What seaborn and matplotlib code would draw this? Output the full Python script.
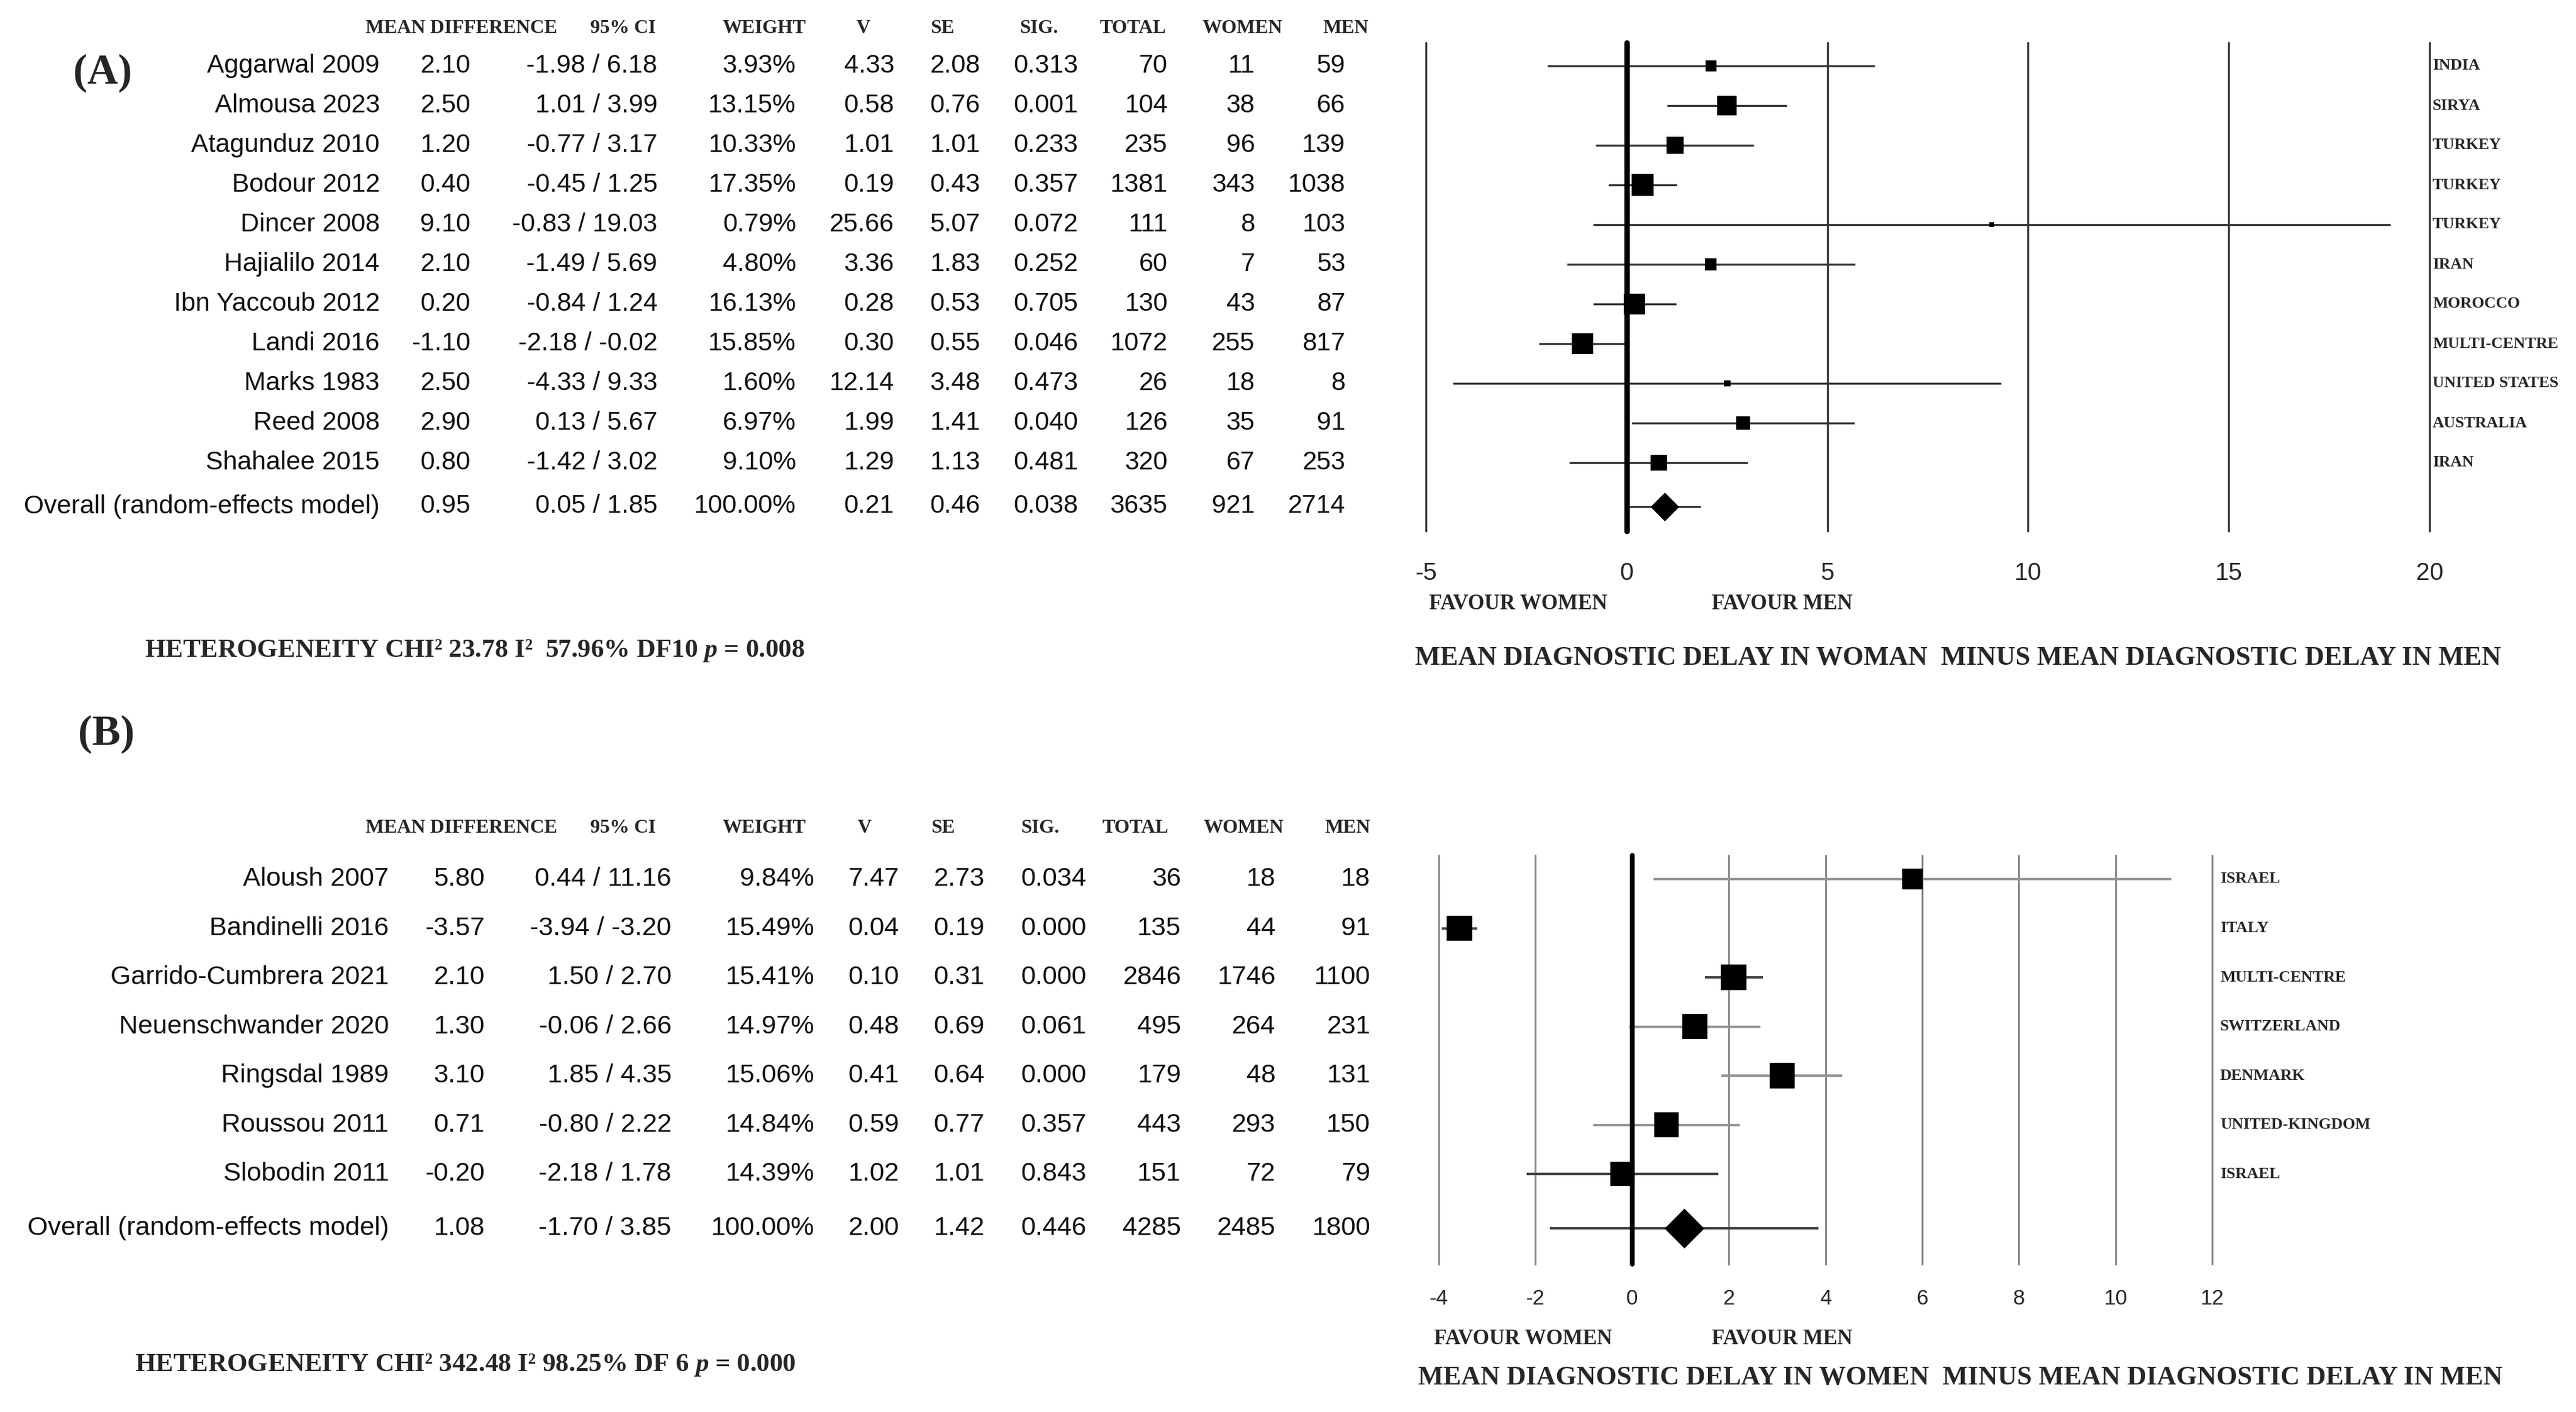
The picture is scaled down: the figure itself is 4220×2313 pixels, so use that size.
import numpy as np
import pandas as pd
import matplotlib
matplotlib.use("Agg")
import matplotlib.pyplot as plt
import seaborn as sns
from matplotlib.transforms import blended_transform_factory

# ---------------- data: panel A ----------------
a_study = ["Aggarwal 2009", "Almousa 2023", "Atagunduz 2010", "Bodour 2012", "Dincer 2008",
           "Hajialilo 2014", "Ibn Yaccoub 2012", "Landi 2016", "Marks 1983", "Reed 2008",
           "Shahalee 2015"]
a_md = [2.10, 2.50, 1.20, 0.40, 9.10, 2.10, 0.20, -1.10, 2.50, 2.90, 0.80]
a_lo = [-1.98, 1.01, -0.77, -0.45, -0.83, -1.49, -0.84, -2.18, -4.33, 0.13, -1.42]
a_hi = [6.18, 3.99, 3.17, 1.25, 19.03, 5.69, 1.24, -0.02, 9.33, 5.67, 3.02]
a_weight = [3.93, 13.15, 10.33, 17.35, 0.79, 4.80, 16.13, 15.85, 1.60, 6.97, 9.10]
a_v = [4.33, 0.58, 1.01, 0.19, 25.66, 3.36, 0.28, 0.30, 12.14, 1.99, 1.29]
a_se = [2.08, 0.76, 1.01, 0.43, 5.07, 1.83, 0.53, 0.55, 3.48, 1.41, 1.13]
a_sig = [0.313, 0.001, 0.233, 0.357, 0.072, 0.252, 0.705, 0.046, 0.473, 0.040, 0.481]
a_total = [70, 104, 235, 1381, 111, 60, 130, 1072, 26, 126, 320]
a_women = [11, 38, 96, 343, 8, 7, 43, 255, 18, 35, 67]
a_men = [59, 66, 139, 1038, 103, 53, 87, 817, 8, 91, 253]
a_country = ["INDIA", "SIRYA", "TURKEY", "TURKEY", "TURKEY", "IRAN", "MOROCCO",
             "MULTI-CENTRE", "UNITED STATES", "AUSTRALIA", "IRAN"]
a_overall = dict(md=0.95, lo=0.05, hi=1.85, weight=100.00, v=0.21, se=0.46, sig=0.038,
                 total=3635, women=921, men=2714)
a_ticks = [-5, 0, 5, 10, 15, 20]
a_het = "HETEROGENEITY CHI\u00b2 23.78 I\u00b2  57.96% DF10 $p$ = 0.008"
a_xtitle = "MEAN DIAGNOSTIC DELAY IN WOMAN  MINUS MEAN DIAGNOSTIC DELAY IN MEN"

# ---------------- data: panel B ----------------
b_study = ["Aloush 2007", "Bandinelli 2016", "Garrido-Cumbrera 2021", "Neuenschwander 2020",
           "Ringsdal 1989", "Roussou 2011", "Slobodin 2011"]
b_md = [5.80, -3.57, 2.10, 1.30, 3.10, 0.71, -0.20]
b_lo = [0.44, -3.94, 1.50, -0.06, 1.85, -0.80, -2.18]
b_hi = [11.16, -3.20, 2.70, 2.66, 4.35, 2.22, 1.78]
b_weight = [9.84, 15.49, 15.41, 14.97, 15.06, 14.84, 14.39]
b_v = [7.47, 0.04, 0.10, 0.48, 0.41, 0.59, 1.02]
b_se = [2.73, 0.19, 0.31, 0.69, 0.64, 0.77, 1.01]
b_sig = [0.034, 0.000, 0.000, 0.061, 0.000, 0.357, 0.843]
b_total = [36, 135, 2846, 495, 179, 443, 151]
b_women = [18, 44, 1746, 264, 48, 293, 72]
b_men = [18, 91, 1100, 231, 131, 150, 79]
b_country = ["ISRAEL", "ITALY", "MULTI-CENTRE", "SWITZERLAND", "DENMARK",
             "UNITED-KINGDOM", "ISRAEL"]
b_overall = dict(md=1.08, lo=-1.70, hi=3.85, weight=100.00, v=2.00, se=1.42, sig=0.446,
                 total=4285, women=2485, men=1800)
b_ticks = [-4, -2, 0, 2, 4, 6, 8, 10, 12]
b_het = "HETEROGENEITY CHI\u00b2 342.48 I\u00b2 98.25% DF 6 $p$ = 0.000"
b_xtitle = "MEAN DIAGNOSTIC DELAY IN WOMEN  MINUS MEAN DIAGNOSTIC DELAY IN MEN"

headers = ["MEAN DIFFERENCE", "95% CI", "WEIGHT", "V", "SE", "SIG.", "TOTAL", "WOMEN", "MEN"]

# ---------------- figure ----------------
sns.set_theme(style="white")
plt.rcParams["font.family"] = ["Liberation Sans", "DejaVu Sans"]
plt.rcParams["mathtext.fontset"] = "custom"
plt.rcParams["mathtext.rm"] = "Liberation Serif:bold"
plt.rcParams["mathtext.it"] = "Liberation Serif:italic:bold"

W, H = 4220, 2313
fig = plt.figure(figsize=(W / 100, H / 100), dpi=100)
SERIF = ["Liberation Serif", "DejaVu Serif"]
SANS = ["Liberation Sans", "DejaVu Sans"]


def fx(px):
    return px / W


def fy(py):
    return 1 - py / H


def make_axes(left, right, top, bottom):
    return fig.add_axes([fx(left), fy(bottom), (right - left) / W, (bottom - top) / H])


def table_rows(study, md, lo, hi, weight, v, se, sig, total, women, men, overall):
    rows = []
    for i in range(len(study)):
        rows.append([study[i], f"{md[i]:.2f}", f"{lo[i]:.2f} / {hi[i]:.2f}", f"{weight[i]:.2f}%",
                     f"{v[i]:.2f}", f"{se[i]:.2f}", f"{sig[i]:.3f}", str(total[i]),
                     str(women[i]), str(men[i])])
    o = overall
    rows.append(["Overall (random-effects model)", f"{o['md']:.2f}",
                 f"{o['lo']:.2f} / {o['hi']:.2f}", f"{o['weight']:.2f}%", f"{o['v']:.2f}",
                 f"{o['se']:.2f}", f"{o['sig']:.3f}", str(o["total"]), str(o["women"]),
                 str(o["men"])])
    return rows


def forest(ax, study, md, lo, hi, weight, country, overall, ticks, cfg):
    n = len(study)
    df = pd.DataFrame({"md": md, "lo": lo, "hi": hi, "weight": weight, "row": np.arange(n)})
    orow = n + 0.1

    # grid lines at each tick
    for t in ticks:
        if t == 0:
            ax.axvline(t, color="black", lw=cfg["zero_lw"], zorder=3)
        else:
            ax.axvline(t, color=cfg["grid_color"], lw=cfg["grid_lw"], zorder=1)

    # confidence intervals
    ax.hlines(df["row"], df["lo"], df["hi"], colors=cfg["ci_colors"], lw=cfg["ci_lw"], zorder=2)
    ax.hlines([orow], [overall["lo"]], [overall["hi"]], colors=cfg["overall_ci"],
              lw=cfg["ci_lw"], zorder=2)

    # study squares, area proportional to weight
    sns.scatterplot(data=df, x="md", y="row", size="weight", sizes=(0, cfg["sq_k"] * 20),
                    size_norm=(0, 20), marker="s", color="black", linewidth=0,
                    legend=False, ax=ax, zorder=5)
    # pooled estimate
    sns.scatterplot(x=[overall["md"]], y=[orow], marker="D", s=cfg["diamond_s"],
                    color="black", linewidth=0, legend=False, ax=ax, zorder=5)

    ax.set_xlim(ticks[0], ticks[-1])
    ax.set_ylim(cfg["ylim"])
    ax.set_xticks(ticks)
    ax.set_xticklabels([str(t) for t in ticks], fontsize=cfg["tick_fs"], family=SANS)
    ax.tick_params(axis="x", length=0, pad=cfg["tick_pad"])
    ax.set_yticks([])
    ax.set_xlabel("")
    ax.set_ylabel("")
    ax.patch.set_alpha(0)
    for sp in ax.spines.values():
        sp.set_visible(False)
    for ln in ax.get_lines():
        ln.set_clip_on(False)

    # country labels right of the plot
    tr = blended_transform_factory(fig.transFigure, ax.transData)
    for i, c in enumerate(country):
        ax.text(fx(cfg["country_x"]), i, c, transform=tr, ha="left", va="center",
                fontsize=19, family=SERIF, fontweight="bold")

    # table on the left
    rows = table_rows(study, md, lo, hi, weight, *cfg["extra"], overall)
    ypos = list(range(n)) + [orow]
    for r, y in zip(rows, ypos):
        for txt, xr in zip(r, cfg["col_right"]):
            ax.text(fx(xr), y, txt, transform=tr, ha="right", va="center",
                    fontsize=cfg["table_fs"], family=SANS, color="#111111")
    for h, xc in zip(headers, cfg["head_x"]):
        fig.text(fx(xc), fy(cfg["head_y"]), h, ha="center", va="center", fontsize=23,
                 family=SERIF, fontweight="bold")

    # captions
    fig.text(fx(cfg["fav_w"]), fy(cfg["fav_y"]), "FAVOUR WOMEN", ha="left", va="center",
             fontsize=25, family=SERIF, fontweight="bold")
    fig.text(fx(cfg["fav_m"]), fy(cfg["fav_y"]), "FAVOUR MEN", ha="left", va="center",
             fontsize=25, family=SERIF, fontweight="bold")
    fig.text(fx(cfg["title_x"]), fy(cfg["title_y"]), cfg["title"], ha="center", va="center",
             fontsize=31.6, family=SERIF, fontweight="bold")
    fig.text(fx(cfg["het_x"]), fy(cfg["het_y"]), cfg["het"], ha="left", va="center",
             fontsize=31, family=SERIF, fontweight="bold")
    fig.text(fx(cfg["tag_x"]), fy(cfg["tag_y"]), cfg["tag"], ha="center", va="center",
             fontsize=50, family=SERIF, fontweight="bold")


# ---------------- panel A ----------------
axA = make_axes(2336, 3980, 70, 870)
forest(axA, a_study, a_md, a_lo, a_hi, a_weight, a_country, a_overall, a_ticks, dict(
    extra=(a_v, a_se, a_sig, a_total, a_women, a_men),
    zero_lw=6.5, grid_color="#3a3a3a", grid_lw=2.4,
    ci_colors="#333333", overall_ci="#333333", ci_lw=2.4,
    sq_k=39.2, diamond_s=572,
    ylim=((870 - 108) / 65, (70 - 108) / 65),
    tick_fs=29, tick_pad=36,
    country_x=3985,
    col_right=[622, 771, 1077, 1304, 1465, 1606, 1766, 1913, 2056, 2204],
    table_fs=30.5,
    head_x=[756, 1021, 1252, 1414, 1544, 1702, 1856, 2035, 2205], head_y=46,
    fav_w=2341, fav_m=2804, fav_y=990,
    title=a_xtitle, title_x=3208, title_y=1078,
    het=a_het, het_x=237, het_y=1066,
    tag="(A)", tag_x=168, tag_y=120,
))

# ---------------- panel B ----------------
axB = make_axes(2357, 3624, 1401, 2071)
forest(axB, b_study, b_md, b_lo, b_hi, b_weight, b_country, b_overall, b_ticks, dict(
    extra=(b_v, b_se, b_sig, b_total, b_women, b_men),
    zero_lw=5.5, grid_color="#8a8a8a", grid_lw=2.2,
    ci_colors=["#959595", "#444444", "#444444", "#959595", "#959595", "#959595", "#444444"],
    overall_ci="#444444", ci_lw=2.8,
    sq_k=58.2, diamond_s=1100,
    ylim=((2071 - 1440) / 80.5, (1401 - 1440) / 80.5),
    tick_fs=25, tick_pad=29,
    country_x=3637,
    col_right=[637, 794, 1100, 1334, 1473, 1613, 1780, 1935, 2090, 2245],
    table_fs=31,
    head_x=[756, 1021, 1252, 1416, 1545, 1704, 1860, 2037, 2208], head_y=1356,
    fav_w=2349, fav_m=2804, fav_y=2193,
    title=b_xtitle, title_x=3211, title_y=2257,
    het=b_het, het_x=221, het_y=2236,
    tag="(B)", tag_x=174, tag_y=1203,
))

fig.savefig("out.png", dpi=100, facecolor="white")
